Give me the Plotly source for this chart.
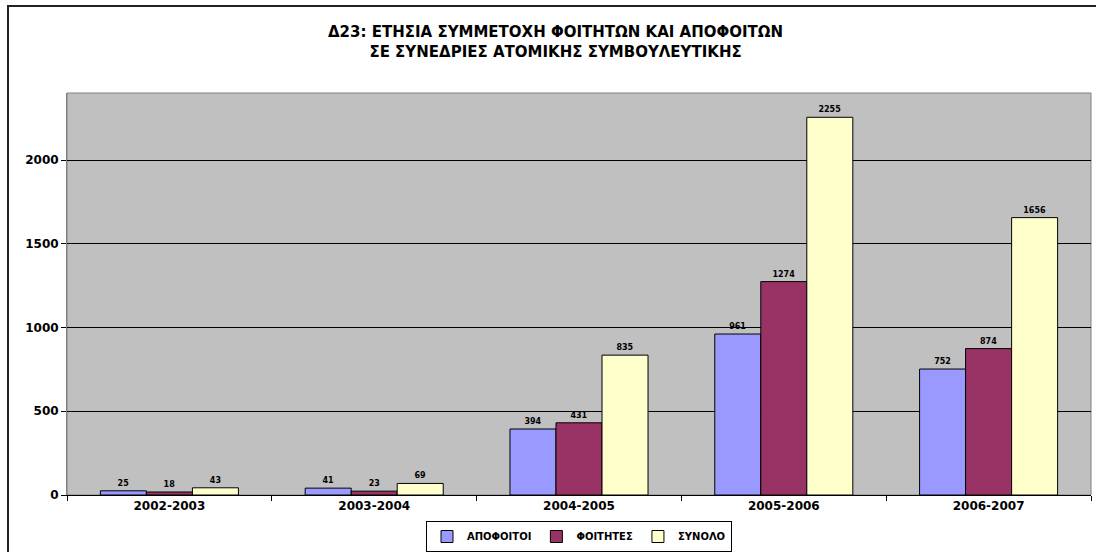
import plotly.graph_objects as go

categories = ["2002-2003", "2003-2004", "2004-2005", "2005-2006", "2006-2007"]
apofoitoi = [25, 41, 394, 961, 752]
foitites = [18, 23, 431, 1274, 874]
synolo = [43, 69, 835, 2255, 1656]
series_names = ["ΑΠΟΦΟΙΤΟΙ", "ΦΟΙΤΗΤΕΣ", "ΣΥΝΟΛΟ"]
series_colors = ["#9999FF", "#993366", "#FFFFCC"]
y_ticks = [0, 500, 1000, 1500, 2000]

FONT = "'DejaVu Sans', Verdana, sans-serif"

fig = go.Figure()
for name, vals, col in zip(series_names, [apofoitoi, foitites, synolo], series_colors):
    fig.add_trace(go.Bar(
        x=categories, y=vals, name=name,
        marker=dict(color=col, line=dict(color="black", width=1)),
        text=[str(v) for v in vals], textposition="outside",
        textfont=dict(family=FONT, size=8, color="black", weight="bold"),
        cliponaxis=False,
    ))

W, H = 1096, 552
L, R, T, B = 67, 5, 93, 57
pw, ph = W - L - R, H - T - B

def px_x(x):
    return (x - L) / pw

def px_y(y):
    return (H - B - y) / ph

fig.update_layout(
    width=W, height=H,
    margin=dict(l=L, r=R, t=T, b=B, autoexpand=False),
    paper_bgcolor="white",
    plot_bgcolor="#C0C0C0",
    barmode="group",
    bargap=0.326,
    bargroupgap=0,
    font=dict(family=FONT, color="black"),
    showlegend=True,
    legend=dict(
        orientation="h", x=0.5, xanchor="center", y=px_y(552), yanchor="bottom",
        bordercolor="black", borderwidth=1, bgcolor="white",
        font=dict(family=FONT, size=10, color="black", weight="bold"),
        itemwidth=30, tracegroupgap=0, itemclick=False,
    ),
    xaxis=dict(
        automargin=False,
        showline=True, linecolor="black", linewidth=1,
        ticks="outside", tickson="boundaries", ticklen=5, tickcolor="black",
        tickfont=dict(family=FONT, size=12, color="black", weight="bold"),
        showgrid=False,
    ),
    yaxis=dict(
        automargin=False,
        range=[0, 2400], tickvals=y_ticks,
        showgrid=True, gridcolor="black", gridwidth=1,
        zeroline=False,
        showline=True, linecolor="#808080", linewidth=1,
        ticks="outside", ticklen=5, tickcolor="black",
        tickfont=dict(family=FONT, size=12, color="black", weight="bold"),
    ),
    shapes=[
        dict(type="rect", xref="paper", yref="paper", x0=0, x1=1, y0=0, y1=1,
             line=dict(color="#808080", width=1), layer="below"),
        dict(type="rect", xref="paper", yref="paper",
             x0=px_x(8), x1=px_x(1110), y0=px_y(6), y1=px_y(570),
             line=dict(color="#222222", width=2)),
    ],
    annotations=[
        dict(text="Δ23: ΕΤΗΣΙΑ ΣΥΜΜΕΤΟΧΗ ΦΟΙΤΗΤΩΝ ΚΑΙ ΑΠΟΦΟΙΤΩΝ<br>ΣΕ ΣΥΝΕΔΡΙΕΣ ΑΤΟΜΙΚΗΣ ΣΥΜΒΟΥΛΕΥΤΙΚΗΣ",
             xref="paper", yref="paper", x=px_x(555), y=px_y(42),
             xanchor="center", yanchor="middle", showarrow=False,
             font=dict(family=FONT, size=15, color="black", weight="bold")),
    ],
)

fig.write_html("out.html", config={"displayModeBar": False},
               post_script="document.body.style.margin='0';document.body.style.overflow='hidden';")
